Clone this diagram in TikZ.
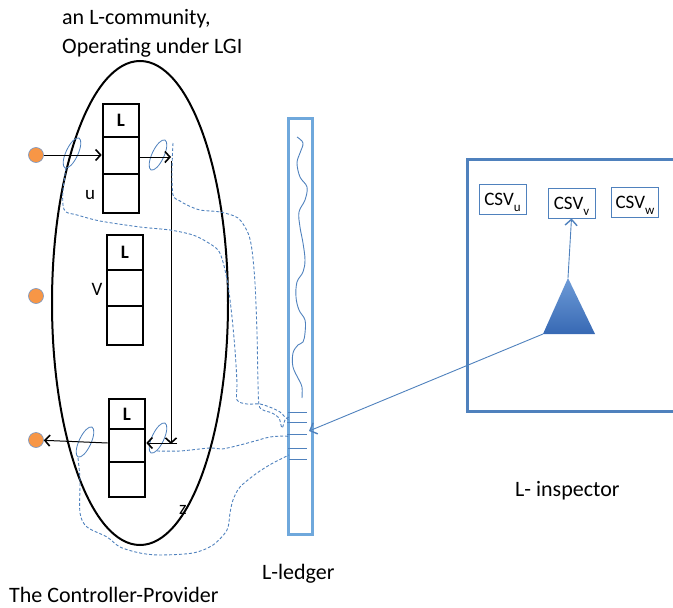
\documentclass[tikz,border=0pt]{standalone}
\usepackage{fontspec}
\setmainfont{Carlito}
\usetikzlibrary{arrows.meta,shapes.geometric,calc}
\definecolor{dotorange}{RGB}{247,150,70}
\definecolor{dotedge}{RGB}{120,150,195}
\definecolor{ofblue}{RGB}{79,129,189}
\definecolor{ledgerblue}{RGB}{111,168,220}
\definecolor{tritop}{RGB}{110,155,215}
\definecolor{tribot}{RGB}{55,105,180}
\tikzset{
  cell/.style={draw=black, line width=2.6pt, minimum width=36pt, minimum height=36pt, inner sep=0pt, font=\fontsize{19}{19}\selectfont\bfseries},
  dot/.style={circle, fill=dotorange, draw=dotedge, line width=0.6pt, minimum size=15pt, inner sep=0pt},
  loopell/.style={ellipse, draw=ofblue, line width=0.8pt, minimum width=12pt, minimum height=33pt, inner sep=0pt},
  arr/.style={draw=black, line width=1pt, -{Straight Barb[length=5pt,width=11pt,line width=1.6pt]}},
  thinarr/.style={draw=black, line width=0.6pt, -{Straight Barb[length=5pt,width=11pt,line width=1.6pt]}},
  dashline/.style={draw=ofblue, line width=0.9pt, dash pattern=on 3pt off 2pt},
  bluearr/.style={draw=ofblue, line width=0.9pt, -{Straight Barb[length=6pt,width=12pt,line width=1.4pt]}},
  csv/.style={draw=ofblue, line width=0.8pt, minimum width=47pt, minimum height=30pt, inner sep=0pt, font=\fontsize{19}{19}\selectfont},
  lbl/.style={font=\fontsize{22}{22}\selectfont, inner sep=0pt},
  side/.style={font=\fontsize{19}{19}\selectfont, inner sep=0pt}
}
\newcommand{\csvsub}[1]{CSV\smash{\raisebox{-6pt}{\fontsize{13}{13}\selectfont #1}}}
\begin{document}
\begin{tikzpicture}[x=1pt,y=-1pt]
\useasboundingbox (0,0) rectangle (673,608);

% title
\node[lbl, anchor=base west] (title1) at (62,24) {an L-community,};
\node[lbl, anchor=base west] (title2) at (62,53) {Operating under LGI};

% community ellipse
\node[ellipse, draw=black, line width=2pt, minimum width=176pt, minimum height=484pt, inner sep=0pt] (comm) at (140,303) {};

% box u
\node[cell, minimum height=33pt] (u1) at (121,120.5) {L};
\node[cell, minimum height=37pt] (u2) at (121,155.5) {};
\node[cell, minimum height=39pt] (u3) at (121,193.5) {};
\node[side] (ul) at (90,195) {u};

% box v
\node[cell, minimum height=35pt] (v1) at (125,252.5) {L};
\node[cell, minimum height=36pt] (v2) at (125,288) {};
\node[cell, minimum height=39pt] (v3) at (125,325.5) {};
\node[side] (vl) at (97,289) {V};

% box z
\node[cell, minimum height=30pt] (z1) at (127,414) {L};
\node[cell, minimum height=33pt] (z2) at (127,445.5) {};
\node[cell, minimum height=35pt] (z3) at (127,479.5) {};
\node[side] (zl) at (183,510) {z};

% orange dots
\node[dot] (d1) at (36,155) {};
\node[dot] (d2) at (36,296) {};
\node[dot] (d3) at (36,440) {};

% loop ellipses
\node[loopell, rotate=-25] (e1) at (72,153) {};
\node[loopell, rotate=-25] (e2) at (158,155) {};
\node[loopell, rotate=-25] (e3) at (85,442) {};
\node[loopell, rotate=-25] (e4) at (158,438) {};

% black arrows
\coordinate (ut) at (171,157);
\coordinate (zt) at (171,444);
\draw[arr] (d1) -- (d1 -| u2.west);
\draw[arr] (u2.east |- ut) -- (ut);
\draw[thinarr] ($(ut)+(0,4)$) -- (zt);
\draw[arr] ($(zt)+(6,-1)$) -- ($(zt -| z2.east)+(0,-1)$);
\draw[arr] ($(zt -| z2.west)+(0,-1)$) -- (d3);

% ledger
\node[draw=ledgerblue, line width=3pt, minimum width=24pt, minimum height=416pt, inner sep=0pt] (ledger) at (300,326) {};
\draw[draw=ofblue, line width=0.9pt] plot[smooth, tension=0.6] coordinates {(297,137) (303,143) (300,153) (297,163) (300,177) (307,187) (305,200) (299,212) (300,227) (303,243) (305,260) (303,272) (297,282) (296,297) (299,310) (305,320) (305,333) (303,342) (298,345) (293,353) (293,367) (299,380) (302,387) (302,398)};
\foreach \yy/\xa in {412/288, 422/287, 434/287, 448/288, 459/289}
  \draw[draw=ofblue, line width=1pt] (\xa,\yy) -- (307,\yy);
\coordinate (ledgin) at (309,431);

% dashed connections
\draw[dashline] plot[smooth, tension=0.5] coordinates {(66,168) (63,190) (63,205) (66,212) (77,215) (100,221) (140,227) (170,230) (193,235) (207,242) (218,250) (223,262) (228,285) (232,317) (235,350) (237,383) (237,400) (247,404) (260,404) (272,408) (280,412) (285,417) (289,420)};
\draw[dashline] plot[smooth, tension=0.5] coordinates {(173,143) (172,170) (173,195) (180,201) (187,205) (200,210) (220,212) (238,218) (248,233) (252,250) (255,283) (257,333) (258,383) (259,405) (263,410) (272,413) (279,418) (282,428) (285,420) (289,417)};
\draw[dashline] plot[smooth, tension=0.5] coordinates {(157,451) (180,451) (210,448) (222,449) (240,445) (255,441) (270,437) (285,436) (290,437)};
\draw[dashline] plot[smooth, tension=0.5] coordinates {(78,458) (80,480) (80,513) (87,527) (107,537) (120,547) (140,553) (160,555) (193,553) (213,545) (227,530) (230,513) (233,500) (240,487) (257,473) (273,463) (289,455)};

% inspector
\draw[draw=ofblue, line width=3pt] (690,159) -- (467,159) -- (467,411) -- (690,411);
\node[csv] (csvu) at (502.5,199) {\csvsub{u}};
\node[csv] (csvv) at (571.5,203) {\csvsub{v}};
\node[csv] (csvw) at (635,202) {\csvsub{w}};
\coordinate (apex) at (568,278);
\coordinate (tribl) at (543,334);
\coordinate (tribr) at (595,334);
\shade[top color=tritop, bottom color=tribot] (apex) -- (tribr) -- (tribl) -- cycle;
\draw[bluearr] (apex) -- (csvv.south);
\draw[bluearr] (tribl) -- (ledgin);

% labels
\node[lbl, anchor=base west] (insp) at (515,496) {L- inspector};
\node[lbl, anchor=base west] (ledgl) at (262,579) {L-ledger};
\node[lbl, anchor=base west] (ctrl) at (9,602) {The Controller-Provider};
\end{tikzpicture}
\end{document}
